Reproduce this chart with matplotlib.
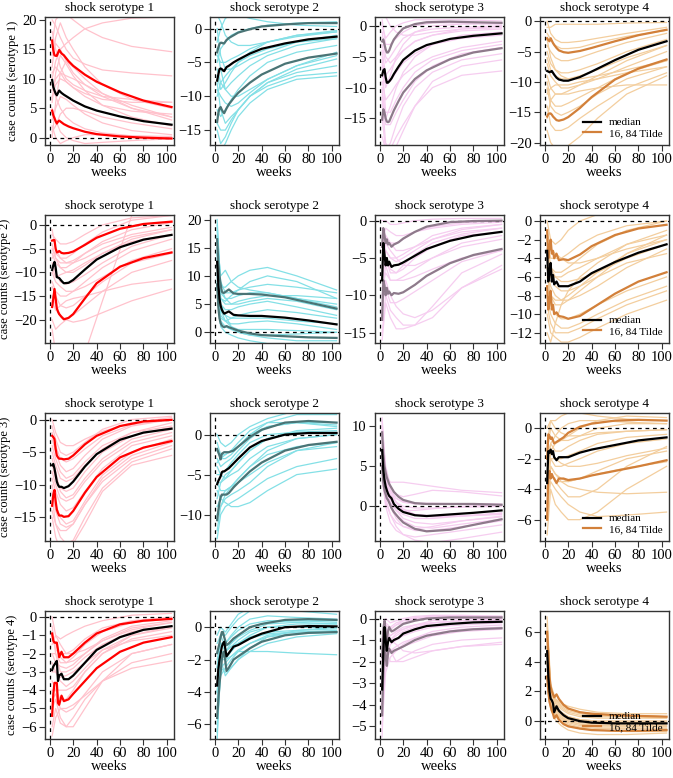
import matplotlib
matplotlib.use("Agg")
import matplotlib.pyplot as plt
from matplotlib.lines import Line2D

plt.rcParams["font.family"] = ["Liberation Serif", "DejaVu Serif"]
plt.rcParams["font.size"] = 9

# weeks for the median / 16-84 bands, and for the posterior draws
band_weeks = [2, 3, 4, 5, 6, 7, 8, 10, 12, 16, 20, 30, 40, 60, 80, 104]
draw_weeks = [2, 5, 9, 14, 20, 30, 45, 70, 104]

# ---- row 1: response of serotype 1 ----
med_11 = [9.8, 8.6, 8.0, 7.5, 7.2, 7.6, 8.0, 7.6, 7.3, 6.8, 6.3, 5.3, 4.6, 3.6, 2.8, 2.2]
hi_11 = [16.5, 14.8, 14.0, 13.9, 13.9, 14.4, 14.9, 14.3, 14.0, 13.0, 12.2, 10.7, 9.5, 7.7, 6.3, 5.2]
lo_11 = [4.6, 3.8, 3.3, 2.8, 2.4, 2.7, 2.9, 2.6, 2.3, 1.9, 1.6, 1.0, 0.6, 0.2, 0.0, -0.15]
draws_11 = [
    [12, 17, 19.5, 17, 15, 12, 9, 6.5, 5],
    [8, 10, 11, 10.5, 10, 9, 7.5, 5.5, 3.5],
    [3, 5, 7, 6.5, 5.5, 4, 2.5, 1.2, 0.5],
    [16, 20, 21, 21, 20, 18.5, 17, 15.5, 14.6],
    [10, 13, 15, 16, 17, 18.5, 19.5, 20.3, 20.5],
    [5, 3, 1, 0, -0.5, -1, -0.8, -0.5, -0.2],
    [14, 16, 15, 13, 11, 9, 7, 5, 3.5],
    [1, 2, 4, 5, 5, 4.5, 3.5, 2.5, 1.5],
    [20, 19, 17, 15, 13.5, 12.5, 11.5, 11, 10.5],
    [7, 9, 10, 9.5, 8.5, 7.5, 6.5, 6, 6],
    [0, 6, 11, 13, 12, 10, 7.5, 5, 3],
    [9, 7, 5, 3.5, 2.5, 1.5, 0.8, 0.3, 0],
    [18, 15, 12, 10, 9, 8, 7, 6.5, 6],
    [6, 11, 14, 12.5, 10.5, 8, 5.5, 3.5, 2],
    [2, 0, -1, -0.5, 0, 0.5, 0.5, 0.3, 0.2],
    [11, 12, 11, 9.5, 8.5, 7, 5.5, 4.5, 4],
]

med_12 = [-7.7, -6.8, -6.0, -5.9, -6.0, -6.2, -6.3, -5.7, -5.5, -5.0, -4.6, -3.7, -3.0, -2.2, -1.6, -1.2]
hi_12 = [-3.5, -2.8, -2.3, -2.1, -2.1, -2.2, -2.2, -1.7, -1.4, -1.0, -0.6, -0.1, 0.3, 0.6, 0.8, 0.8]
lo_12 = [-13.8, -12.5, -11.8, -11.6, -12.0, -12.3, -12.5, -11.8, -11.2, -10.3, -9.5, -8.0, -6.8, -5.2, -4.3, -3.7]
draws_12 = [
    [-2, 0, 1.5, 2, 2, 1.5, 1, 0.5, 0.3],
    [-5, -3, -2, -1, -0.5, 0, 0.5, 0.8, 1],
    [-10, -8, -7, -6, -5, -4, -3, -2, -1.5],
    [-15, -17, -16, -14, -12, -10, -8, -6, -4.5],
    [-8, -12, -14, -13, -12, -10, -8.5, -7, -6.5],
    [0, -4, -6, -6, -5.5, -4.5, -3.5, -2, -1],
    [-12, -13, -12, -10.5, -9, -7, -5, -3.5, -2.5],
    [-3, -6, -9, -10, -10, -9, -7.5, -5.5, -4],
    [-18, -18, -17, -15, -13, -11, -9, -7.5, -7],
    [-6, -8, -9, -8, -7, -5.5, -4, -2.5, -1.5],
    [2, 1, -1, -2, -2.5, -2.5, -2, -1.2, -0.5],
    [-9, -10, -11, -11.5, -11, -9.5, -7.5, -5.5, -3.5],
    [-4, -5, -5, -4.5, -4, -3, -2, -1, -0.5],
    [-14, -15, -15, -13.5, -12, -10, -8, -6.5, -5.5],
    [-7, -9, -8, -6.5, -5, -3.5, -2, -1, -0.3],
]

med_13 = [-8.0, -7.2, -7.0, -8.3, -9.2, -9.2, -9.0, -8.5, -7.8, -6.6, -5.5, -4.0, -3.1, -2.1, -1.6, -1.2]
hi_13 = [-2.5, -2.2, -3.0, -3.8, -4.3, -4.3, -4.0, -3.0, -2.2, -1.2, -0.4, 0.3, 0.6, 0.7, 0.6, 0.5]
lo_13 = [-15.2, -13.5, -14.0, -15.0, -15.5, -15.6, -15.5, -14.6, -13.7, -12.2, -10.8, -8.6, -7.2, -5.4, -4.3, -3.6]
draws_13 = [
    [0, -2, -1, 0, 0.5, 1, 1, 1, 0.8],
    [-5, -10, -8, -5, -3, -1, 0, 0.3, 0.3],
    [-10, -15, -13, -10, -7.5, -5, -3, -1.5, -1],
    [-3, -6, -5, -3.5, -2, -1, -0.5, -0.2, 0],
    [-15, -20, -19, -16, -13, -10, -7.5, -5.5, -4.5],
    [-12, -19, -20, -18, -16, -13, -10, -8, -7.3],
    [2, 1.5, 0, -1, -1.5, -1.5, -1, -0.5, -0.3],
    [-8, -9, -9, -7.5, -6, -4.5, -3, -2, -1.5],
    [-6, -14, -14, -12, -10, -7.5, -5.5, -4, -3],
    [-18, -20, -20, -19.5, -17, -13, -9, -6.5, -5.5],
    [-1, -5, -6, -5, -4, -2.5, -1.5, -0.8, -0.5],
    [-9, -12, -11, -9.5, -8, -6.5, -5, -3.5, -2.5],
    [-4, -8, -7, -5.5, -4, -2.5, -1.5, -0.5, 0],
    [-11, -16, -16, -14, -12, -9, -6.5, -4.5, -3.5],
    [1, -3, -3, -2, -1, 0, 0.5, 0.5, 0.5],
]

med_14 = [-8.2, -8.3, -8.4, -8.3, -8.2, -8.5, -8.8, -9.3, -9.6, -9.8, -9.8, -9.2, -8.3, -6.4, -4.7, -3.3]
hi_14 = [-2.8, -3.1, -3.3, -2.8, -3.2, -3.6, -3.9, -4.4, -4.8, -5.1, -5.2, -4.9, -4.4, -3.3, -2.3, -1.4]
lo_14 = [-15.7, -15.3, -15.2, -15.2, -15.4, -15.7, -15.9, -16.3, -16.4, -16.2, -15.8, -14.3, -12.5, -9.6, -7.8, -6.3]
draws_14 = [
    [-1, -1, -0.5, -0.5, -0.5, -0.5, -0.5, -0.3, -0.2],
    [-4, -5, -6, -6.5, -6.5, -6, -5, -3.5, -2],
    [-10, -13, -14, -14, -13.5, -12.5, -11, -8.5, -6.5],
    [-18, -20, -21, -21, -20.5, -19, -16, -12, -9],
    [-7, -9, -10, -11, -11, -10.5, -9.5, -7.5, -5],
    [-2, -3, -4, -4.5, -4.5, -4.3, -3.5, -2.5, -1.5],
    [-14, -17, -18, -18, -17.5, -16, -14, -11, -8.5],
    [-12, -11, -10.5, -10.5, -10.5, -10, -9.5, -8.5, -7.5],
    [-5, -7, -8, -8.5, -8.5, -8, -7, -5, -3],
    [-16, -13, -12, -12, -12, -11.5, -11, -10.5, -10.5],
    [-9, -11, -12, -12, -11.5, -10.5, -9, -6.5, -4],
    [-3, -6, -8, -9, -9.5, -9.5, -9, -8, -6.5],
    [-6, -8, -9, -9.5, -9.5, -9, -8, -6, -4],
    [-11, -14, -15, -15.5, -15, -14, -12, -9.5, -7.5],
    [0, -2, -3, -3.5, -3.5, -3.3, -2.8, -2, -1],
]

# ---- row 2: response of serotype 2 ----
med_21 = [-9.5, -8.5, -7.8, -9.0, -11.0, -11.1, -11.2, -11.8, -12.3, -12.2, -11.6, -9.4, -7.3, -4.7, -3.1, -2.1]
hi_21 = [-3.3, -3.2, -3.2, -5.0, -5.8, -5.7, -5.5, -5.9, -6.0, -5.9, -5.6, -4.2, -2.7, -0.8, 0.2, 0.7]
lo_21 = [-17.3, -15.5, -13.5, -15.5, -17.6, -18.3, -18.8, -19.4, -19.9, -19.6, -18.8, -15.5, -12.3, -8.8, -7.0, -5.8]
draws_21 = [
    [-2, -3, -4, -4, -3.5, -2, 0, 1.5, 2],
    [-6, -8, -9, -9, -8, -6, -3.5, -1, 0.5],
    [-12, -14, -15, -15, -14, -12, -9, -5.5, -3],
    [-20, -22, -21, -20, -19, -17, -14, -10, -7.5],
    [-15, -17, -19, -20, -20.5, -20, -18.5, -16, -13.5],
    [-8, -10, -12, -12.5, -12, -10.5, -8, -4.5, -2],
    [-1, -5, -7, -7, -6, -4, -1.5, 1, 2],
    [-10, -12, -13, -14, -14, -13, -11, -7.5, -5],
    [-4, -7, -9, -10, -10, -8.5, -6, -3, -1],
    [-16, -18, -17, -16, -15.5, -15, -14, -12.5, -11.5],
    [-22, -27, -30, -31, -30, -27, -16, 2, 15],
    [-7, -6, -7, -8, -8, -7, -5, -2.5, -1],
    [-5, -7, -8, -8, -7.5, -6, -4, -2, -0.5],
    [-13, -15, -17, -17.5, -17, -15, -12, -8, -6],
    [-9, -11, -10.5, -10, -9.5, -8, -6, -3.5, -2],
]

med_22 = [12.5, 8.5, 6.0, 4.7, 4.0, 3.6, 3.3, 3.5, 3.7, 3.1, 3.0, 2.9, 2.9, 2.6, 2.1, 1.4]
hi_22 = [16.5, 12.5, 10.0, 8.5, 7.2, 7.0, 7.0, 7.3, 7.6, 6.9, 6.8, 6.8, 6.7, 6.2, 5.3, 4.2]
lo_22 = [8.5, 4.5, 2.5, 1.6, 1.2, 1.0, 0.9, 1.1, 0.9, 0.6, 0.3, -0.2, -0.5, -0.7, -0.9, -1.0]
draws_22 = [
    [20, 8, 8, 9, 10, 11, 11.5, 10, 7.5],
    [15, 5, 4, 4, 4.5, 5, 5.5, 4.5, 3],
    [10, 2, 1, 0.5, 0, -0.5, -1, -1.5, -1.5],
    [18, 9, 7, 7, 7.5, 8, 8.5, 8, 7],
    [12, 4, 3, 2.5, 2.5, 2.5, 2.5, 2, 1.5],
    [17, 7, 6, 6, 6.5, 7, 7, 6, 4.5],
    [8, 1, 0, -0.5, -1, -1.5, -2, -2, -2],
    [14, 6, 5.5, 6.5, 7.5, 9, 10, 9, 6],
    [16, 10, 11, 9, 8, 7.5, 7, 6, 5],
    [11, 3, 2, 1.5, 1.5, 1.8, 2, 1.5, 0.5],
    [19, 8, 6, 5, 5, 5.5, 6, 5.5, 4],
    [13, 5, 3, 1, 0, -0.5, -0.5, -0.3, 0],
    [17, 6, 5, 5, 5.5, 6, 6.5, 6.5, 6],
    [9, 2.5, 2, 2.5, 3, 3.5, 4, 3.5, 2.5],
    [14, 4, 2, 1, 0.5, 0.5, 0.5, 0.3, 0],
]

med_23 = [-8.0, -3.0, -4.5, -6.0, -5.0, -6.0, -5.5, -6.2, -6.0, -5.9, -5.6, -4.7, -3.8, -2.7, -2.0, -1.5]
hi_23 = [-3.5, -1.0, -2.0, -3.0, -2.5, -3.2, -3.0, -3.5, -3.2, -2.9, -2.4, -1.5, -0.8, -0.2, -0.05, 0.0]
lo_23 = [-13.3, -8.0, -8.7, -10.0, -9.0, -9.8, -9.5, -10.0, -9.7, -9.8, -9.6, -8.6, -7.4, -5.7, -4.6, -3.8]
draws_23 = [
    [0, 0, -0.5, -0.5, -0.3, 0, 0.2, 0.3, 0.3],
    [-5, -2, -3, -3, -2.5, -1.5, -0.8, -0.3, 0],
    [-10, -6, -8, -8, -7.5, -6.5, -5, -3, -2],
    [-15, -10, -12, -13, -14, -14, -13, -9, -6.5],
    [-2, -4, -5, -5, -4.5, -3.5, -2, -1, -0.5],
    [-7, -3, -4, -5, -6, -6, -5, -3.5, -2.5],
    [-12, -8, -10, -11.5, -12.5, -13, -12, -9, -6],
    [-3, -1, -1.5, -2, -2, -1.5, -1, -0.5, -0.2],
    [-9, -7, -8, -8, -8, -7.5, -6.5, -5, -4],
    [-16, -11, -13, -14.5, -14.5, -14, -11.5, -7, -4.5],
    [-4, -5, -7, -7, -6, -4.5, -3, -1.8, -1],
    [-1, -2, -3, -4, -4, -3.5, -2.5, -1.5, -1],
    [-6, -4, -5, -5.5, -5, -4, -2.5, -1.2, -0.5],
    [-11, -9, -11, -11, -10.5, -9.5, -8, -5.5, -4],
    [-8, -5, -6.5, -7, -6.5, -5, -3.5, -2, -1.5],
]

med_24 = [-3.2, -6.5, -5.5, -4.5, -6.5, -5.8, -6.8, -6.5, -7.0, -7.0, -7.0, -6.5, -5.6, -4.4, -3.4, -2.5]
hi_24 = [-1.0, -4.0, -2.8, -2.0, -3.5, -3.2, -4.0, -3.5, -4.2, -4.1, -4.2, -3.6, -2.7, -1.5, -0.8, -0.4]
lo_24 = [-7.0, -9.5, -8.5, -7.5, -9.5, -9.0, -10.0, -9.8, -10.2, -10.3, -10.5, -10.2, -9.4, -7.8, -6.5, -5.5]
draws_24 = [
    [0, -2, -2.5, -2, -1, 0, 0.7, 1, 1],
    [-2, -4, -4, -4, -3.5, -2.5, -1.5, -0.5, 0],
    [-5, -7, -8, -8.5, -8.5, -8, -7, -5, -3],
    [-8, -10, -11, -11.5, -11.5, -11, -10, -8.5, -7],
    [-3, -6, -6, -6, -5.5, -5, -4, -2.5, -1.5],
    [-6, -8, -9, -9, -8.5, -7.5, -6, -3.5, -1.5],
    [-10, -12, -12.5, -13, -13, -12.5, -11.5, -10, -8.5],
    [-1, -3, -3.5, -4, -4.5, -4.5, -4, -3, -2],
    [-4, -6, -7, -7.5, -7.5, -7, -6, -4.5, -3.5],
    [-7, -9, -10, -10.5, -10.5, -10, -9, -7.5, -6],
    [-12, -13, -11, -9, -7.5, -6, -4.5, -2.5, -1],
    [-2, -5, -6, -6.5, -6.5, -6.2, -5.5, -4, -2.5],
    [-3, -5, -5.5, -5.5, -5, -4, -2.5, -1, 0],
    [-9, -11, -12, -12, -12, -11.5, -10.5, -9, -7.5],
    [-5, -8, -8.5, -8.5, -8, -7, -5.5, -3.5, -2],
]

# ---- row 3: response of serotype 3 ----
med_31 = [-7.0, -6.8, -7.5, -8.5, -9.5, -10.0, -10.3, -10.3, -10.5, -10.2, -9.5, -7.2, -5.3, -3.1, -2.0, -1.4]
hi_31 = [-2.5, -2.7, -3.0, -4.5, -5.5, -5.8, -6.0, -6.0, -6.1, -6.0, -5.5, -3.8, -2.5, -1.0, -0.3, -0.05]
lo_31 = [-13.2, -11.5, -10.8, -12.5, -13.8, -14.3, -14.7, -14.7, -14.9, -14.8, -14.0, -11.2, -8.8, -5.8, -4.3, -3.3]
draws_31 = [
    [-1, -3, -5, -5.5, -5, -3.5, -1.5, 0, 0.5],
    [-5, -7, -9, -9.5, -9, -7, -4.5, -2, -0.5],
    [-10, -13, -15, -16, -15.5, -12.5, -8.5, -5, -3],
    [-14, -16, -18, -19, -18.5, -15, -10.5, -6.5, -4.5],
    [-3, -5, -7, -8, -7.5, -5.5, -3, -1, 0],
    [-8, -10, -12, -12.5, -12, -9.5, -6.5, -3.5, -2],
    [-12, -16, -17, -17, -16, -13, -9, -5.5, -3.5],
    [0, -2, -3.5, -4, -4, -3, -1.8, -0.5, 0.3],
    [-6, -8, -11, -12, -11.5, -9, -6, -3, -1.5],
    [-15, -18, -20, -20, -19, -16, -11, -7, -5.5],
    [-4, -6, -8, -9, -8.5, -6.5, -4, -2, -1],
    [-9, -11, -13, -14, -13.5, -11, -7.5, -4, -2.5],
    [-2, -4, -6, -6.5, -6, -4.5, -2.5, -0.8, 0],
    [-11, -14, -16, -16.5, -16, -13, -9.5, -6, -4],
    [-7, -9, -10.5, -11, -10.5, -8, -5, -2.5, -1.2],
]

med_32 = [-6.2, -5.8, -5.5, -5.2, -4.7, -4.6, -4.6, -4.4, -4.2, -3.6, -3.0, -1.6, -0.8, 0.0, 0.2, 0.2]
hi_32 = [-1.8, -2.2, -2.6, -3.1, -2.4, -2.3, -2.2, -2.2, -2.2, -2.0, -1.5, -0.3, 0.6, 1.5, 1.7, 1.5]
lo_32 = [-10.7, -9.5, -8.5, -7.8, -7.5, -7.5, -7.5, -7.5, -7.3, -6.6, -6.0, -4.6, -3.5, -2.0, -1.3, -0.9]
draws_32 = [
    [0, -1, -1.5, -1, 0, 1, 2, 3, 3],
    [-3, -4, -3.5, -3, -2, -0.5, 1, 1.5, 1.5],
    [-8, -6, -5, -4.5, -3.5, -2, -0.5, 0.5, 0.8],
    [-13, -10, -9, -8.5, -8, -7, -5.5, -4, -3],
    [-5, -5, -4.5, -3.5, -2.5, -1, 0, 0.3, 0.3],
    [-10, -9, -7.5, -6.5, -5.5, -4, -2, -0.5, 0],
    [-2, -3, -3, -2.5, -1.5, 0, 1.5, 2.5, 2.5],
    [-7, -8, -8.5, -9, -9, -8.5, -7, -5, -4.3],
    [-4, -5, -5.5, -5, -4.5, -3, -1.5, -0.5, 0],
    [-12, -9, -8, -7.5, -7, -6, -4, -2, -1],
    [-1, -2.5, -2.5, -2, -1, 0.5, 1.5, 1.5, 1],
    [-6, -7, -7, -6.5, -5.5, -4, -2.5, -1.5, -1],
    [-3.5, -3, -2.5, -2, -1.5, 0, 1, 1.5, 1.2],
    [-9, -8, -7, -6.5, -6, -5, -3.5, -2, -1.5],
    [-6, -6, -5.5, -4.5, -3.5, -2, -0.5, 0.3, 0.5],
]

med_33 = [7.0, 4.5, 3.3, 2.5, 2.0, 1.6, 1.3, 1.0, 0.3, -0.3, -0.7, -1.1, -1.2, -1.0, -0.8, -0.5]
hi_33 = [9.2, 6.5, 5.0, 4.2, 3.6, 3.2, 2.8, 2.3, 1.8, 1.2, 0.8, 0.4, 0.3, 0.3, 0.3, 0.2]
lo_33 = [5.0, 3.0, 2.0, 1.5, 1.0, 0.8, 0.5, -0.2, -0.7, -1.4, -2.0, -2.8, -3.1, -2.9, -2.3, -1.6]
draws_33 = [
    [11, 4, 3, 3, 3, 2.8, 2.5, 2, 1.7],
    [9, 3, 1, 0, -0.5, -0.5, -0.3, 0, 0.2],
    [6, 2, 0, -1.5, -2.5, -3, -3, -2.5, -1.8],
    [8, 4, 2, 1, 0.5, 0.3, 0.3, 0.3, 0.2],
    [5, 1, -1, -2.5, -3.5, -4.2, -4.5, -4, -3.2],
    [10, 5, 2.5, 1.5, 1.2, 1.5, 2, 1.8, 1.3],
    [7, 2.5, 0.5, -0.5, -1, -1.5, -1.5, -1.2, -0.8],
    [4, 0, -2, -3, -3.5, -3.8, -3.5, -3, -2.3],
    [8.5, 3, 1.5, 0.5, 0, -0.2, -0.2, -0.1, 0],
    [6.5, 3.5, 1.5, 0.5, -0.5, -1, -1.2, -1.2, -1],
    [3, 0.5, -1, -2, -2.5, -2.8, -2.5, -1.8, -1.3],
    [9.5, 4.5, 2, 0.5, -0.3, -1, -1.3, -1.2, -0.9],
    [7.5, 3, 1, -0.5, -1.5, -2, -2.2, -1.8, -1.2],
    [10.5, 4, 2, 1, 0.6, 0.4, 0.4, 0.3, 0.3],
    [5.5, 2, 0, -1, -1.8, -2.5, -2.7, -2.2, -1.6],
]

med_34 = [-3.6, -1.5, -1.6, -1.4, -1.7, -1.5, -1.9, -2.1, -1.9, -1.9, -1.9, -1.6, -1.4, -1.1, -0.8, -0.6]
hi_34 = [-2.0, -0.4, -0.5, -0.7, -0.6, -0.8, -1.0, -0.9, -0.8, -0.6, -0.3, 0.1, 0.3, 0.5, 0.55, 0.5]
lo_34 = [-6.0, -3.0, -2.8, -3.3, -3.0, -3.2, -3.3, -3.6, -3.3, -3.3, -3.4, -3.3, -3.1, -2.8, -2.5, -2.1]
draws_34 = [
    [-1, 0.5, 0.5, 0.8, 1, 1, 0.8, 0.6, 0.5],
    [-3, -1, -0.5, 0, 0.3, 0.5, 0.5, 0.4, 0.3],
    [-6, -3, -3.5, -4, -4.5, -4.5, -4, -2.5, -1.2],
    [-7, -4, -5, -5.5, -6, -6, -5.5, -4, -2.5],
    [-2, -1, -1.5, -1.5, -1.2, -0.8, -0.4, -0.2, -0.1],
    [-4, -2, -2.5, -2.5, -2.3, -2, -1.5, -1, -0.7],
    [-5, -3.5, -4, -4.5, -5, -5.5, -5.8, -5.7, -5.5],
    [-3, -2, -2, -2.3, -2.5, -2.5, -2.3, -1.8, -1.3],
    [0, 0.5, 0, -0.3, -0.5, -0.5, -0.3, -0.2, -0.1],
    [-6, -2.5, -3, -3.5, -3.8, -4, -4.2, -4.3, -4.2],
    [-2, -1.5, -1, -0.8, -0.5, 0, 0.5, 0.8, 0.7],
    [-4, -2.5, -3, -3.3, -3.5, -3.3, -2.8, -2, -1.5],
    [-5, -1.5, -2, -2, -1.8, -1.5, -1, -0.6, -0.4],
    [-3, -3, -3.5, -3.5, -3.5, -3.3, -3, -2.6, -2.2],
    [-1.5, 0, -0.5, -0.8, -0.8, -0.5, 0, 0.3, 0.3],
]

# ---- row 4: response of serotype 4 ----
med_41 = [-2.9, -2.7, -2.6, -2.5, -2.4, -3.5, -3.2, -3.1, -3.4, -3.4, -3.2, -2.5, -1.8, -1.1, -0.7, -0.5]
hi_41 = [-0.9, -1.3, -1.4, -1.4, -1.4, -1.8, -2.2, -1.9, -2.2, -2.2, -2.0, -1.4, -0.9, -0.4, -0.2, -0.1]
lo_41 = [-5.4, -4.2, -3.6, -3.6, -3.6, -4.7, -4.8, -4.3, -4.6, -4.5, -4.2, -3.5, -2.8, -1.9, -1.4, -1.1]
draws_41 = [
    [0, -1, -1.2, -1, -0.8, -0.5, -0.2, 0.1, 0.2],
    [-2, -2, -2.5, -2.5, -2.2, -1.5, -0.8, -0.3, -0.1],
    [-4, -4, -4.5, -4.5, -4, -3, -2, -1.2, -0.8],
    [-6, -5, -5.8, -6, -5.5, -4.5, -3.5, -2.8, -2.4],
    [-1, -1.8, -2, -2, -1.8, -1.2, -0.6, -0.2, 0],
    [-3, -3, -3.5, -3.8, -3.5, -2.8, -1.8, -1, -0.6],
    [-5, -4.5, -5.5, -6, -6, -5, -3.5, -2, -1.5],
    [-2.5, -3, -3.3, -3.2, -3, -2.5, -1.8, -1.3, -1],
    [-1.5, -1, -1.5, -2, -2, -1.8, -1.3, -0.7, -0.3],
    [-6.5, -5.5, -5, -5, -4.8, -4.3, -3.5, -2.5, -2],
    [-3.5, -4, -4, -4, -3.8, -3, -2, -1, -0.5],
    [-0.5, -2, -3, -3, -2.8, -2.2, -1.5, -0.8, -0.5],
    [-1, -1.5, -2.2, -2.5, -2.4, -2, -1.3, -0.6, -0.3],
    [-4.5, -4.2, -5, -5.2, -5, -4.2, -3, -2, -1.5],
    [-2, -2.5, -2.7, -2.8, -2.6, -2, -1.2, -0.5, -0.2],
]

med_42 = [-3.6, -2.6, -2.0, -1.6, -1.2, -1.0, -0.9, -1.8, -1.6, -1.2, -1.1, -0.7, -0.4, 0.0, 0.07, 0.05]
hi_42 = [-1.6, -1.3, -1.0, -0.6, -0.3, -0.3, -0.6, -1.1, -1.0, -0.7, -0.5, 0.0, 0.2, 0.45, 0.5, 0.45]
lo_42 = [-5.6, -4.5, -3.5, -2.8, -2.0, -1.6, -1.5, -2.7, -2.5, -2.0, -1.8, -1.3, -0.9, -0.5, -0.35, -0.3]
draws_42 = [
    [-1, -0.5, -0.5, 0, 0.5, 1, 1.2, 1.2, 1],
    [-3, -1.5, -1.5, -1, -0.5, 0, 0.3, 0.4, 0.3],
    [-6, -3, -2.5, -2, -1.5, -1, -0.5, -0.3, -0.2],
    [-7, -2, -3, -2.5, -2, -1.5, -1, -0.6, -0.4],
    [-2, -1, -1, -0.5, 0, 0.5, 0.7, 0.6, 0.5],
    [-4, -2, -2, -1.8, -1.5, -1.5, -1.5, -1.6, -1.7],
    [-5, -2.5, -2.8, -2.5, -2, -1.3, -0.6, -0.2, 0],
    [-0.5, 0, -0.3, 0.2, 0.8, 1.2, 1.2, 1, 0.8],
    [-3.5, -1.5, -2, -1.5, -1, -0.5, 0, 0.2, 0.2],
    [-2.5, -0.5, -1.2, -1, -0.6, -0.2, 0.2, 0.3, 0.2],
    [-4.5, -2, -1.5, -1.2, -1, -0.7, -0.4, -0.3, -0.3],
    [-1.5, -1, -1.5, -1.2, -0.8, -0.3, 0, 0, 0],
    [-2.5, -1, -1, -0.6, -0.2, 0.2, 0.4, 0.4, 0.4],
    [-4, -1.8, -1.8, -1.4, -1, -0.6, -0.3, -0.2, -0.1],
    [-6.5, -2.5, -2.2, -1.8, -1.4, -1, -0.6, -0.4, -0.3],
]

med_43 = [-3.3, -1.5, -0.4, -1.0, -1.5, -1.1, -0.9, -1.1, -1.0, -0.9, -0.7, -0.5, -0.35, -0.25, -0.18, -0.15]
hi_43 = [-1.8, -0.5, -0.1, -0.6, -1.0, -0.6, -0.4, -0.6, -0.55, -0.4, -0.25, -0.1, 0.0, 0.05, 0.05, 0.05]
lo_43 = [-4.5, -2.5, -1.0, -1.8, -2.2, -1.6, -1.4, -1.6, -1.5, -1.4, -1.3, -1.0, -0.8, -0.6, -0.5, -0.45]
draws_43 = [
    [-5.5, -0.5, -0.5, -0.3, -0.1, 0, 0.1, 0.1, 0.1],
    [-3, -1, -1, -0.7, -0.5, -0.3, -0.1, 0, 0],
    [-4, -2, -1.5, -1.5, -1.3, -1.1, -0.8, -0.6, -0.5],
    [-2, -0.3, -0.5, -0.3, -0.2, 0, 0.1, 0.1, 0.1],
    [-4.5, -1.5, -2, -2, -1.8, -1.5, -1.2, -1, -0.9],
    [-1, 0, -0.2, -0.1, 0, 0.1, 0.15, 0.15, 0.1],
    [-3.5, -1.2, -1.5, -2, -2, -1.8, -1.5, -1.3, -1.2],
    [-2.5, -1, -0.8, -0.6, -0.4, -0.3, -0.2, -0.1, -0.1],
    [-5, -2.5, -1.8, -1.5, -1.2, -0.9, -0.6, -0.4, -0.3],
    [-1.5, -0.5, -0.8, -0.6, -0.5, -0.3, -0.2, -0.1, 0],
    [-3, -2, -1.2, -1, -0.8, -0.6, -0.4, -0.3, -0.2],
    [-4, -0.8, -1, -1.2, -1.5, -1.6, -1.5, -1.3, -1.1],
    [-2, -0.6, -1, -0.8, -0.6, -0.4, -0.2, -0.1, -0.05],
    [-4, -1.8, -1.5, -1.3, -1.1, -0.9, -0.7, -0.5, -0.4],
    [-3, -0.2, -0.4, -0.2, -0.1, 0.05, 0.1, 0.1, 0.05],
]

med_44 = [4.7, 3.0, 2.0, 1.5, 1.4, 1.2, 0.6, 1.0, 0.7, 0.4, 0.2, 0.0, -0.1, -0.15, -0.15, -0.15]
hi_44 = [6.0, 4.5, 3.0, 2.3, 2.0, 1.8, 1.6, 1.8, 1.5, 1.1, 0.85, 0.6, 0.5, 0.4, 0.35, 0.3]
lo_44 = [3.0, 2.0, 1.3, 1.0, 0.7, 0.5, 0.2, 0.4, 0.1, -0.2, -0.35, -0.5, -0.6, -0.65, -0.65, -0.6]
draws_44 = [
    [7, 2.5, 1.5, 1.2, 1, 0.8, 0.6, 0.5, 0.5],
    [5, 1.5, 0.8, 0.4, 0.1, -0.1, -0.2, -0.2, -0.2],
    [3, 1, 0.3, 0, -0.3, -0.5, -0.6, -0.7, -0.7],
    [6, 2, 1.2, 0.8, 0.5, 0.3, 0.2, 0.2, 0.2],
    [4, 1.2, 0.5, 0.1, -0.2, -0.4, -0.5, -0.5, -0.5],
    [6.5, 2.2, 1.5, 1, 0.7, 0.5, 0.4, 0.4, 0.3],
    [2.5, 0.8, 0.1, -0.3, -0.6, -0.8, -0.9, -0.9, -0.8],
    [5.5, 1.8, 0.9, 0.5, 0.2, 0, -0.1, -0.1, -0.1],
    [4.5, 1.5, 1, 0.6, 0.3, 0.1, 0, 0, 0],
    [3.5, 1, 0.4, 0.2, 0, -0.2, -0.3, -0.35, -0.35],
    [6, 1.6, 0.6, 0.2, -0.1, -0.3, -0.4, -0.4, -0.4],
    [5, 2, 1.4, 1.1, 0.8, 0.6, 0.5, 0.4, 0.3],
    [5.5, 2.2, 1.3, 0.9, 0.6, 0.4, 0.3, 0.3, 0.2],
    [4, 1.3, 0.7, 0.3, 0, -0.2, -0.3, -0.3, -0.3],
    [6.5, 1.8, 1, 0.6, 0.3, 0.1, 0, 0, 0],
]

panels = {
    (0, 0): (med_11, lo_11, hi_11, draws_11), (0, 1): (med_12, lo_12, hi_12, draws_12),
    (0, 2): (med_13, lo_13, hi_13, draws_13), (0, 3): (med_14, lo_14, hi_14, draws_14),
    (1, 0): (med_21, lo_21, hi_21, draws_21), (1, 1): (med_22, lo_22, hi_22, draws_22),
    (1, 2): (med_23, lo_23, hi_23, draws_23), (1, 3): (med_24, lo_24, hi_24, draws_24),
    (2, 0): (med_31, lo_31, hi_31, draws_31), (2, 1): (med_32, lo_32, hi_32, draws_32),
    (2, 2): (med_33, lo_33, hi_33, draws_33), (2, 3): (med_34, lo_34, hi_34, draws_34),
    (3, 0): (med_41, lo_41, hi_41, draws_41), (3, 1): (med_42, lo_42, hi_42, draws_42),
    (3, 2): (med_43, lo_43, hi_43, draws_43), (3, 3): (med_44, lo_44, hi_44, draws_44),
}

# axis ranges and ticks
ylims = {
    (0, 0): (-1.25, 20.5), (0, 1): (-17.2, 1.7), (0, 2): (-19.3, 1.45), (0, 3): (-20.4, 0.7),
    (1, 0): (-24.9, 2.1), (1, 1): (-1.9, 20.8), (1, 2): (-16.4, 0.76), (1, 3): (-13.1, 0.65),
    (2, 0): (-18.6, 1.0), (2, 1): (-13.3, 2.7), (2, 2): (-4.3, 11.6), (2, 3): (-7.4, 1.0),
    (3, 0): (-6.67, 0.33), (3, 1): (-6.9, 1.0), (3, 2): (-5.6, 0.35), (3, 3): (-1.2, 7.4),
}
yticks = {
    (0, 0): [0, 5, 10, 15, 20], (0, 1): [0, -5, -10, -15], (0, 2): [0, -5, -10, -15],
    (0, 3): [0, -5, -10, -15, -20],
    (1, 0): [0, -5, -10, -15, -20], (1, 1): [0, 5, 10, 15, 20], (1, 2): [0, -5, -10, -15],
    (1, 3): [0, -2, -4, -6, -8, -10, -12],
    (2, 0): [0, -5, -10, -15], (2, 1): [0, -5, -10], (2, 2): [0, 5, 10], (2, 3): [0, -2, -4, -6],
    (3, 0): [0, -1, -2, -3, -4, -5, -6], (3, 1): [0, -2, -4, -6], (3, 2): [0, -1, -2, -3, -4, -5],
    (3, 3): [0, 2, 4, 6],
}

draw_colors = ["#FFC2CC", "#84E0E6", "#F6CDF0", "#F3CE9E"]
band_colors = ["#FF0000", "#4A7475", "#8E7A8B", "#D2803A"]

fig = plt.figure(figsize=(6.73, 7.78), dpi=100)
W, H = 673.0, 778.0
col_left = [45, 210, 375, 540]
row_top = [17, 215, 413, 611]
aw, ah = 129, 128

for (r, c), (med, lo, hi, draws) in panels.items():
    ax = fig.add_axes([col_left[c] / W, 1 - (row_top[r] + ah) / H, aw / W, ah / H])
    for d in draws:
        ax.plot(draw_weeks, d, color=draw_colors[c], lw=0.9, zorder=1)
    ax.axhline(0, color="black", ls=(0, (3, 3)), lw=0.9, zorder=2)
    ax.axvline(0.5, color="black", ls=(0, (3, 3)), lw=0.9, zorder=2)
    ax.plot(band_weeks, hi, color=band_colors[c], lw=1.6, zorder=3)
    ax.plot(band_weeks, lo, color=band_colors[c], lw=1.6, zorder=3)
    ax.plot(band_weeks, med, color="black", lw=1.6, zorder=4)
    ax.set_xlim(-4.1, 106.1)
    ax.set_ylim(*ylims[(r, c)])
    ax.set_xticks([0, 20, 40, 60, 80, 100])
    ax.set_yticks(yticks[(r, c)])
    ax.tick_params(direction="out", length=4, width=0.8, labelsize=10.5, pad=2, color="#333333")
    for s in ax.spines.values():
        s.set_linewidth(1.0)
        s.set_color("#333333")
    ax.set_title("shock serotype %d" % (c + 1), fontsize=9.5, pad=4)
    ax.set_xlabel("weeks", fontsize=10.5, labelpad=0)
    if c == 0:
        ax.set_ylabel("case counts (serotype %d)" % (r + 1), fontsize=9, labelpad=2)
    if c == 3:
        handles = [Line2D([], [], color="black", lw=1.6),
                   Line2D([], [], color=band_colors[3], lw=1.6)]
        ax.legend(handles, ["median", "16, 84 Tilde"], loc="lower right", frameon=False,
                  fontsize=8, handlelength=1.6, handletextpad=0.7, borderaxespad=0.2,
                  labelspacing=0.1)

fig.savefig("out.png", dpi=100)
